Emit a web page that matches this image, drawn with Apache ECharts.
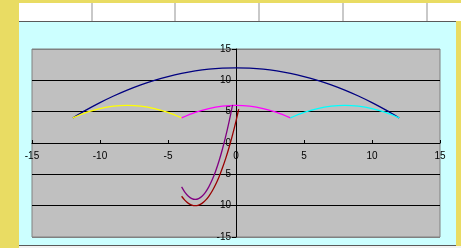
<!DOCTYPE html>
<html>
<head>
<meta charset="utf-8">
<script src="https://cdn.jsdelivr.net/npm/echarts@6/dist/echarts.min.js"></script>
<style>
	html, body { margin: 0; padding: 0; }
	body { width: 461px; height: 248px; background: #E9DC63; position: relative; overflow: hidden; }
	#sheet { position: absolute; left: 19px; top: 3px; width: 442px; height: 18px; background: #fff; }
	#sheet div { position: absolute; top: 0; width: 2px; height: 18px; background: #C9C9C9; }
	#_chart { position: absolute; left: 19px; top: 21px; width: 437px; height: 223px;
		background: #CCFFFF; border-top: 1px solid #5A5A5A; border-bottom: 1px solid #5A5A5A; }
	#below { position: absolute; left: 19px; top: 246px; width: 442px; height: 2px; background: #F2F2F2; }
</style>
</head>
<body>
<div id="sheet">
	<div style="left:72px"></div><div style="left:155px"></div><div style="left:239px"></div>
	<div style="left:323px"></div><div style="left:407px"></div>
</div>
<div id="_chart"></div>
<div id="below"></div>
<script>
// canopy
var bigX = [-12, -11, -10, -9, -8, -7, -6, -5, -4, -3, -2, -1, 0, 1, 2, 3, 4, 5, 6, 7, 8, 9, 10, 11, 12];
var bigY = [4, 5.28, 6.44, 7.5, 8.44, 9.28, 10, 10.61, 11.11, 11.5, 11.78, 11.94, 12, 11.94, 11.78, 11.5, 11.11, 10.61, 10, 9.28, 8.44, 7.5, 6.44, 5.28, 4];
// small arcs
var leftX = [-12, -11, -10, -9, -8, -7, -6, -5, -4];
var midX = [-4, -3, -2, -1, 0, 1, 2, 3, 4];
var rightX = [4, 5, 6, 7, 8, 9, 10, 11, 12];
var arcY = [4, 4.875, 5.5, 5.875, 6, 5.875, 5.5, 4.875, 4];
// handle
var handleX = [-4, -3.75, -3.5, -3.25, -3, -2.75, -2.5, -2.25, -2, -1.75, -1.5, -1.25, -1, -0.75, -0.5, -0.25, 0, 0.2];
var innerY = [-7, -7.875, -8.5, -8.875, -9, -8.875, -8.5, -7.875, -7, -5.875, -4.5, -2.875, -1, 1.125, 3.5, 6.1];
var outerY = [-8.5, -9.16, -9.63, -9.91, -10, -9.91, -9.63, -9.16, -8.5, -7.66, -6.63, -5.41, -4, -2.41, -0.63, 1.34, 3.5, 5.4];
var ticks = [-15, -10, -5, 0, 5, 10, 15];

function pts(xs, ys){
	var out = [];
	for (var i = 0; i < ys.length; i++) out.push([xs[i], ys[i]]);
	return out;
}
function line(data, color){
	return { type: 'line', data: data, showSymbol: false, smooth: 0.3, animation: false,
		lineStyle: { color: color, width: 1.3 } };
}

var gridW = 408, gridH = 188;
var _chart = echarts.init(document.getElementById('_chart'));
var _chart_option = {
	textStyle: { fontFamily: 'Liberation Sans, Arial, sans-serif' },
	grid: { left: 13, top: 27, width: gridW, height: gridH, outerBoundsMode: 'none', containLabel: false,
		show: true, backgroundColor: '#C0C0C0', borderColor: '#808080', borderWidth: 1 },
	xAxis: {
		type: 'value', min: ticks[0], max: ticks[ticks.length - 1], interval: 5,
		position: 'bottom', offset: -gridH / 2,
		axisLine: { onZero: false, lineStyle: { color: '#000', width: 1 } },
		axisTick: { inside: true, length: 3, lineStyle: { color: '#000' } },
		axisLabel: { color: '#000', fontSize: 10, margin: 8 },
		splitLine: { show: false }
	},
	yAxis: {
		type: 'value', min: ticks[0], max: ticks[ticks.length - 1], interval: 5,
		position: 'left', offset: -gridW / 2,
		axisLine: { onZero: false, lineStyle: { color: '#000', width: 1 } },
		axisTick: { length: 4, lineStyle: { color: '#000' } },
		axisLabel: { color: '#000', fontSize: 10, margin: 5 },
		splitLine: { show: true, lineStyle: { color: ['#808080', '#000', '#000', '#000', '#000', '#000', '#808080'], width: 1 } }
	},
	series: [
		line(pts(bigX, bigY), '#000080'),
		line(pts(leftX, arcY), '#FFFF00'),
		line(pts(midX, arcY), '#FF00FF'),
		line(pts(rightX, arcY), '#00FFFF'),
		line(pts(handleX, innerY), '#800080'),
		line(pts(handleX, outerY), '#990000')
	]
};
_chart.setOption(_chart_option);
</script>
</body>
</html>
